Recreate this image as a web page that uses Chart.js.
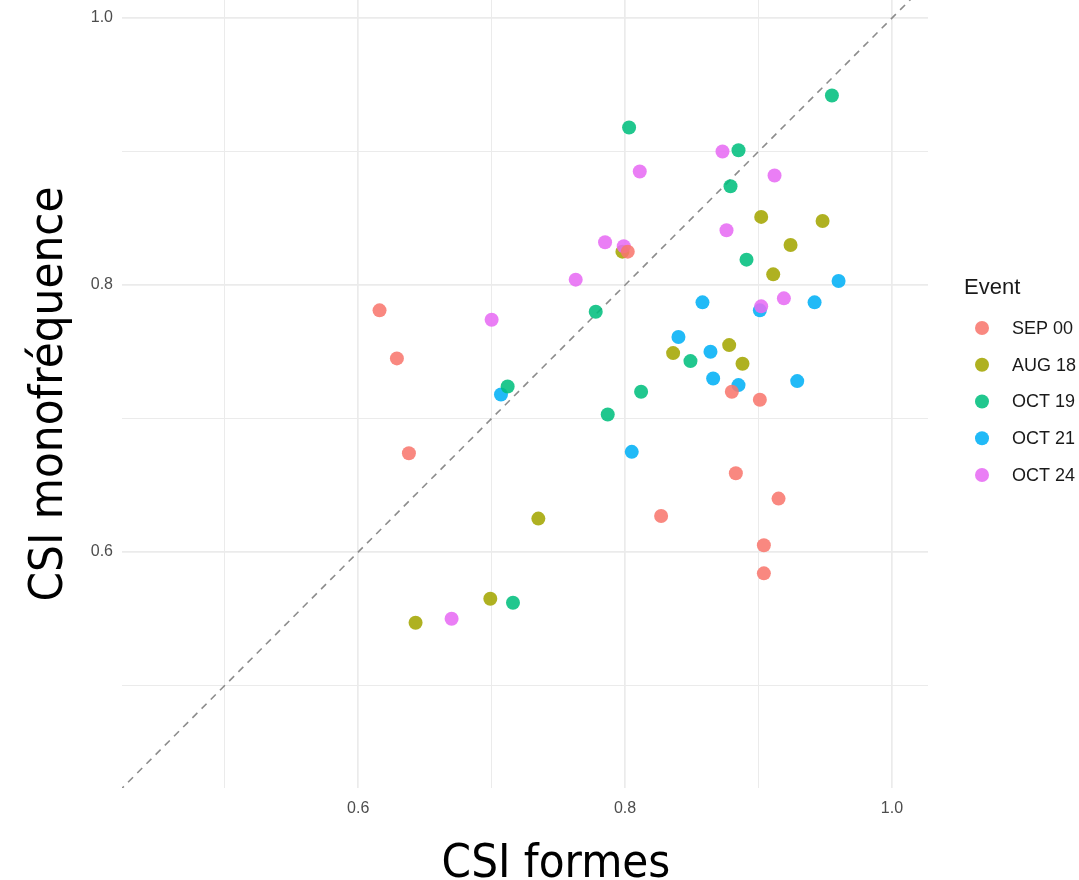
<!DOCTYPE html>
<html>
<head>
<meta charset="utf-8">
<script src="https://cdn.jsdelivr.net/npm/chart.js@4.4.1/dist/chart.umd.min.js"></script>
<style>
html,body{margin:0;padding:0;background:#ffffff;overflow:hidden}
#wrap{width:1079px;height:880px;position:relative}
</style>
</head>
<body>
<div id="wrap"><canvas id="c"></canvas></div>
<script>
// ---- data ----
const events = ['SEP 00', 'AUG 18', 'OCT 19', 'OCT 21', 'OCT 24'];
const colors = ['#F8766D', '#A3A500', '#00BF7D', '#00B0F6', '#E76BF3'];

const sep00X = [0.616, 0.629, 0.638, 0.802, 0.880, 0.901, 0.883, 0.915, 0.827, 0.904, 0.904];
const sep00Y = [0.781, 0.745, 0.674, 0.825, 0.720, 0.714, 0.659, 0.640, 0.627, 0.605, 0.584];

const aug18X = [0.798, 0.902, 0.948, 0.924, 0.911, 0.878, 0.836, 0.888, 0.735, 0.699, 0.643];
const aug18Y = [0.825, 0.851, 0.848, 0.830, 0.808, 0.755, 0.749, 0.741, 0.625, 0.565, 0.547];

const oct19X = [0.955, 0.803, 0.885, 0.879, 0.891, 0.778, 0.849, 0.812, 0.712, 0.787, 0.716];
const oct19Y = [0.942, 0.918, 0.901, 0.874, 0.819, 0.780, 0.743, 0.720, 0.724, 0.703, 0.562];

const oct21X = [0.960, 0.942, 0.858, 0.901, 0.840, 0.864, 0.866, 0.885, 0.929, 0.707, 0.805];
const oct21Y = [0.803, 0.787, 0.787, 0.781, 0.761, 0.750, 0.730, 0.725, 0.728, 0.718, 0.675];

const oct24X = [0.873, 0.811, 0.912, 0.876, 0.785, 0.799, 0.763, 0.919, 0.902, 0.700, 0.670];
const oct24Y = [0.900, 0.885, 0.882, 0.841, 0.832, 0.829, 0.804, 0.790, 0.784, 0.774, 0.550];

const seriesX = [sep00X, aug18X, oct19X, oct21X, oct24X];
const seriesY = [sep00Y, aug18Y, oct19Y, oct21Y, oct24Y];

const gridTicks = [0.5, 0.6, 0.7, 0.8, 0.9, 1.0];
const labelTicks = [0.6, 0.8, 1.0];
const identityLine = [0.4, 1.1];   // y = x reference
const xRange = [0.423, 1.027];
const yRange = [0.4232, 1.0135];

const xTitle = 'CSI formes';
const yTitle = 'CSI monofréquence';
const legendTitle = 'Event';

// ---- helpers / styles ----
const drawOrder = [0, 2, 3, 4, 1];
function rgba(hex, a) {
  const n = parseInt(hex.slice(1), 16);
  return `rgba(${(n >> 16) & 255},${(n >> 8) & 255},${n & 255},${a})`;
}
const isLabel = v => labelTicks.some(t => Math.abs(t - v) < 1e-6);
const titleFont = '"DejaVu Sans Condensed", "Liberation Sans", Arial, sans-serif';
const tickFont = '"Liberation Sans", Arial, sans-serif';

const datasets = events.map((ev, i) => ({
  label: ev,
  data: seriesX[i].map((x, j) => ({ x: x, y: seriesY[i][j] })),
  backgroundColor: rgba(colors[i], 0.87),
  borderWidth: 0,
  pointRadius: 7,
  pointHoverRadius: 7,
  order: drawOrder[i]
}));
datasets.push({
  label: 'y = x',
  data: identityLine.map(v => ({ x: v, y: v })),
  showLine: true,
  borderColor: '#8c8c8c',
  borderWidth: 1.6,
  borderDash: [7, 6],
  pointRadius: 0,
  pointHoverRadius: 0,
  fill: false,
  order: 10
});

const gridOpts = {
  color: '#ebebeb',
  lineWidth: ctx => (ctx.tick && isLabel(ctx.tick.value)) ? 1.7 : 1,
  drawTicks: false
};

const extrasPlugin = {
  id: 'extras',
  afterDraw(chart) {
    const ctx = chart.ctx;
    const area = chart.chartArea;
    ctx.save();
    // x-axis title
    ctx.fillStyle = '#000000';
    ctx.font = '47px ' + titleFont;
    ctx.textAlign = 'center';
    ctx.textBaseline = 'alphabetic';
    ctx.fillText(xTitle, 556, 877);
    // legend
    const lx = area.right + 36;
    ctx.textAlign = 'left';
    ctx.textBaseline = 'middle';
    ctx.font = '22px ' + tickFont;
    ctx.fillStyle = '#1a1a1a';
    ctx.fillText(legendTitle, lx, 288);
    ctx.font = '18px ' + tickFont;
    events.forEach((ev, i) => {
      const y = 328 + i * 36.75;
      ctx.beginPath();
      ctx.arc(lx + 18, y, 7, 0, Math.PI * 2);
      ctx.fillStyle = rgba(colors[i], 0.87);
      ctx.fill();
      ctx.fillStyle = '#1a1a1a';
      ctx.fillText(ev, lx + 48, y + 1);
    });
    ctx.restore();
  }
};

function noPad(s) {
  s.paddingTop = 0; s.paddingBottom = 0; s.paddingLeft = 0; s.paddingRight = 0;
}

new Chart(document.getElementById('c'), {
  type: 'scatter',
  data: { datasets: datasets },
  options: {
    responsive: true,
    maintainAspectRatio: false,
    animation: false,
    layout: { autoPadding: false, padding: { top: 0, right: 151, bottom: 0, left: 0 } },
    plugins: {
      legend: { display: false },
      tooltip: { enabled: false }
    },
    scales: {
      x: {
        type: 'linear',
        min: xRange[0],
        max: xRange[1],
        afterBuildTicks: s => { s.ticks = gridTicks.map(v => ({ value: v })); },
        afterFit: s => { s.height = 92; noPad(s); },
        grid: gridOpts,
        border: { display: false },
        ticks: {
          autoSkip: false,
          maxRotation: 0,
          padding: 11,
          color: '#4d4d4d',
          font: { family: tickFont, size: 16 },
          callback: v => isLabel(v) ? v.toFixed(1) : ''
        },
        title: { display: false }
      },
      y: {
        type: 'linear',
        min: yRange[0],
        max: yRange[1],
        afterBuildTicks: s => { s.ticks = gridTicks.map(v => ({ value: v })); },
        afterFit: s => { s.width = 122; noPad(s); },
        grid: gridOpts,
        border: { display: false },
        ticks: {
          autoSkip: false,
          padding: 9,
          color: '#4d4d4d',
          font: { family: tickFont, size: 16 },
          callback: v => isLabel(v) ? v.toFixed(1) : ''
        },
        title: {
          display: true,
          text: yTitle,
          color: '#000000',
          font: { family: titleFont, size: 47 },
          padding: { top: 22, bottom: 0 }
        }
      }
    }
  },
  plugins: [extrasPlugin]
});
</script>
</body>
</html>
